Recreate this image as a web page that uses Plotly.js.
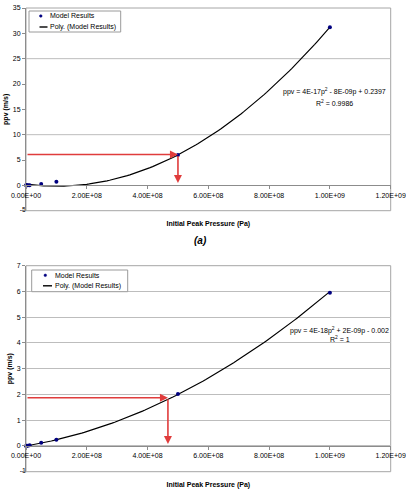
<!DOCTYPE html>
<html>
<head>
<meta charset="utf-8">
<script src="https://cdn.plot.ly/plotly-3.0.1.min.js"></script>
<style>
  html, body { margin: 0; padding: 0; background: #ffffff; }
  #chart { width: 406px; height: 492px; }
</style>
</head>
<body>
<div id="chart"></div>
<script>
// Peak particle velocity (ppv) against initial peak pressure, two model runs.
const pressure = [0, 2e6, 6e6, 1.2e7, 5e7, 1e8, 5e8, 1e9];
const ppvA = [0, 0.01, 0.02, 0.04, 0.26, 0.7, 6.0, 31.2];
const ppvB = [0, 0.004, 0.012, 0.024, 0.12, 0.24, 2.02, 5.95];

// Quadratic trendline coefficients [p^2, p, constant] and fit quality
const polyA = [3.89e-17, -7.92e-9, 0.2397];
const polyB = [4e-18, 2e-9, -0.002];
const r2A = 0.9986;
const r2B = 1;

// Read-off guides: [ppv level, pressure, ppv where the drop arrow stops]
const guideA = [6.1, 5.0e8, 0.45];
const guideB = [1.87, 4.67e8, 0.08];

const xTickVals = [0, 2e8, 4e8, 6e8, 8e8, 1e9, 1.2e9];
const xTickText = ['0.00E+00', '2.00E+08', '4.00E+08', '6.00E+08', '8.00E+08', '1.00E+09', '1.20E+09'];
const yTickValsA = [-5, 0, 5, 10, 15, 20, 25, 30, 35];
const yTickValsB = [-1, 0, 1, 2, 3, 4, 5, 6, 7];
const gridLevelsA = [10, 25];

const seriesName = 'Model Results';
const trendName = 'Poly. (Model Results)';
const xTitle = 'Initial Peak Pressure (Pa)';
const yTitle = 'ppv (m/s)';
const panelTag = '(a)';

// ---- helpers ----
const W = 406, H = 492;
const PX = v => v / W;
const PY = v => 1 - v / H;
const FONT = 'Liberation Sans, Arial, sans-serif';
const GRAY = '#8c8c8c';
const GRID = '#bdbdbd';
const RED = '#e03c3c';
const NAVY = '#000080';

function polyEval(c, p) { return c[0] * p * p + c[1] * p + c[2]; }

function trendCurve(c) {
  const pMin = Math.min(...pressure), pMax = Math.max(...pressure);
  const xs = [], ys = [];
  const n = 120;
  for (let i = 0; i <= n; i++) {
    const p = pMin + (pMax - pMin) * i / n;
    xs.push(p); ys.push(polyEval(c, p));
  }
  return { xs, ys };
}

// Excel-style "0E+00" coefficient text
function sciE(v) {
  const parts = Math.abs(v).toExponential(0).split('e');
  const e = parseInt(parts[1], 10);
  return parts[0] + 'E' + (e < 0 ? '-' : '+') + String(Math.abs(e)).padStart(2, '0');
}
function eqText(c) {
  const s = v => (v < 0 ? '-' : '+');
  return 'ppv = ' + sciE(c[0]) + 'p<sup>2</sup> ' + s(c[1]) + ' ' + sciE(c[1]) + 'p ' +
         s(c[2]) + ' ' + Math.abs(c[2]);
}

// plot-area geometry (paper fractions)
const xDom = [PX(26), PX(390.7)];
const yDomA = [PY(210.7), PY(8)];
const yDomB = [PY(471.7), PY(265.7)];
const rangeX = [0, 1.2e9];
const rangeA = [-5.002, 35];
const rangeB = [-1.0004, 7];
const zeroPos = (dom, r) => dom[0] + (0 - r[0]) / (r[1] - r[0]) * (dom[1] - dom[0]);

const tickFont = { family: FONT, size: 7, color: '#000000' };
const titleFont = { family: FONT, size: 7, color: '#000000' };

function xAxis(pos) {
  return {
    domain: xDom, range: rangeX, anchor: 'free', position: pos,
    tickmode: 'array', tickvals: xTickVals, ticktext: xTickText,
    ticks: 'outside', ticklen: 3, tickcolor: GRAY, tickwidth: 1,
    showline: true, linecolor: GRAY, linewidth: 1,
    showgrid: false, zeroline: false, tickfont: tickFont,
    title: { text: '<b>' + xTitle + '</b>', font: titleFont, standoff: 23 },
    fixedrange: true
  };
}
// The lowest tick lies below the pressure axis; its label is written by a text trace.
function yAxis(dom, r, vals, grid, xa) {
  const low = Math.min(...vals);
  return {
    domain: dom, range: r, anchor: xa,
    tickmode: 'array', tickvals: vals, ticktext: vals.map(v => (v === low ? '' : String(v))),
    ticks: 'outside', ticklen: 3, tickcolor: GRAY, tickwidth: 1,
    showline: true, linecolor: GRAY, linewidth: 1,
    showgrid: grid, gridcolor: GRID, gridwidth: 1, zeroline: false,
    tickfont: tickFont, ticklabeloverflow: 'allow',
    title: { text: '<b>' + yTitle + '</b>', font: titleFont, standoff: 3 },
    fixedrange: true
  };
}

const curveA = trendCurve(polyA);
const curveB = trendCurve(polyB);
const lowA = Math.min(...yTickValsA);
const lowB = Math.min(...yTickValsB);

const traces = [
  { x: curveA.xs, y: curveA.ys, xaxis: 'x', yaxis: 'y', mode: 'lines', name: trendName,
    line: { color: '#000', width: 1.2 }, showlegend: false, hoverinfo: 'skip' },
  { x: pressure, y: ppvA, xaxis: 'x', yaxis: 'y', mode: 'markers', name: seriesName,
    marker: { color: NAVY, size: 4 }, cliponaxis: false, showlegend: false },
  { x: curveB.xs, y: curveB.ys, xaxis: 'x2', yaxis: 'y2', mode: 'lines', name: trendName,
    line: { color: '#000', width: 1.2 }, showlegend: false, hoverinfo: 'skip' },
  { x: pressure, y: ppvB, xaxis: 'x2', yaxis: 'y2', mode: 'markers', name: seriesName,
    marker: { color: NAVY, size: 4 }, cliponaxis: false, showlegend: false },
  // lowest y tick labels
  { x: [rangeX[0]], y: [lowA], xaxis: 'x', yaxis: 'y', mode: 'text', text: [String(lowA)],
    textposition: 'middle left', textfont: tickFont, cliponaxis: false,
    showlegend: false, hoverinfo: 'skip' },
  { x: [rangeX[0]], y: [lowB], xaxis: 'x2', yaxis: 'y2', mode: 'text', text: [String(lowB)],
    textposition: 'middle left', textfont: tickFont, cliponaxis: false,
    showlegend: false, hoverinfo: 'skip' }
];

const shapes = [];
const annotations = [];

// plot-area frames
[['x domain', 'y domain'], ['x2 domain', 'y2 domain']].forEach(r => {
  shapes.push({ type: 'rect', xref: r[0], yref: r[1], x0: 0, x1: 1, y0: 0, y1: 1,
    line: { color: '#a6a6a6', width: 1 }, layer: 'below' });
});
// major gridlines of the upper panel
gridLevelsA.forEach(g => {
  shapes.push({ type: 'line', xref: 'x domain', yref: 'y', x0: 0, x1: 1, y0: g, y1: g,
    line: { color: GRID, width: 1 }, layer: 'below' });
});

// read-off arrows
function guideArrows(g, xr, yr) {
  const base = { xref: xr, yref: yr, axref: xr, ayref: yr, text: '', showarrow: true,
    arrowhead: 2, arrowsize: 1, arrowwidth: 1.6, arrowcolor: RED, standoff: 0 };
  annotations.push(Object.assign({}, base, { x: g[1], y: g[0], ax: 0, ay: g[0] }));
  annotations.push(Object.assign({}, base, { x: g[1], y: g[2], ax: g[1], ay: g[0] }));
}
guideArrows(guideA, 'x', 'y');
guideArrows(guideB, 'x2', 'y2');

// legend boxes
function legendBox(box, dotX, lineX, rowY, textX) {
  shapes.push({ type: 'rect', xref: 'paper', yref: 'paper',
    x0: PX(box[0]), x1: PX(box[2]), y0: PY(box[3]), y1: PY(box[1]),
    line: { color: '#9a9a9a', width: 1 }, fillcolor: '#ffffff' });
  shapes.push({ type: 'circle', xref: 'paper', yref: 'paper',
    x0: PX(dotX - 1.3), x1: PX(dotX + 1.3), y0: PY(rowY[0] + 1.3), y1: PY(rowY[0] - 1.3),
    line: { color: NAVY, width: 0.5 }, fillcolor: NAVY });
  shapes.push({ type: 'line', xref: 'paper', yref: 'paper',
    x0: PX(lineX[0]), x1: PX(lineX[1]), y0: PY(rowY[1]), y1: PY(rowY[1]),
    line: { color: '#000', width: 1.4 } });
  [seriesName, trendName].forEach((t, i) => {
    annotations.push({ xref: 'paper', yref: 'paper', x: PX(textX), y: PY(rowY[i]),
      xanchor: 'left', yanchor: 'middle', text: t, showarrow: false,
      font: { family: FONT, size: 7, color: '#000' } });
  });
}
legendBox([29, 11, 120.7, 32], 40.8, [39.5, 47.5], [16, 27], 48);
legendBox([31.7, 270, 127.7, 291.7], 45.3, [43, 52], [275.3, 285.8], 52.5);

// trendline equations
function eqLabels(c, r2, cx, y1, y2) {
  annotations.push({ xref: 'paper', yref: 'paper', x: PX(cx), y: PY(y1), xanchor: 'center',
    yanchor: 'middle', text: eqText(c), showarrow: false,
    font: { family: FONT, size: 7, color: '#000' } });
  annotations.push({ xref: 'paper', yref: 'paper', x: PX(cx), y: PY(y2), xanchor: 'center',
    yanchor: 'middle', text: 'R<sup>2</sup> = ' + r2, showarrow: false,
    font: { family: FONT, size: 7, color: '#000' } });
}
eqLabels(polyA, r2A, 334, 91.7, 102.7);
eqLabels(polyB, r2B, 339.5, 330, 339.3);

// panel tag
annotations.push({ xref: 'paper', yref: 'paper', x: PX(200), y: PY(240), xanchor: 'center',
  yanchor: 'middle', text: '<b><i>' + panelTag + '</i></b>', showarrow: false,
  font: { family: FONT, size: 10, color: '#000' } });

const layout = {
  width: W, height: H, autosize: false,
  margin: { l: 0, r: 0, t: 0, b: 0, pad: 0 },
  paper_bgcolor: '#ffffff', plot_bgcolor: '#ffffff',
  showlegend: false,
  xaxis: xAxis(zeroPos(yDomA, rangeA)),
  yaxis: yAxis(yDomA, rangeA, yTickValsA, false, 'x'),
  xaxis2: xAxis(zeroPos(yDomB, rangeB)),
  yaxis2: yAxis(yDomB, rangeB, yTickValsB, true, 'x2'),
  shapes: shapes,
  annotations: annotations
};

Plotly.newPlot('chart', traces, layout, { displayModeBar: false, staticPlot: true });
</script>
</body>
</html>
